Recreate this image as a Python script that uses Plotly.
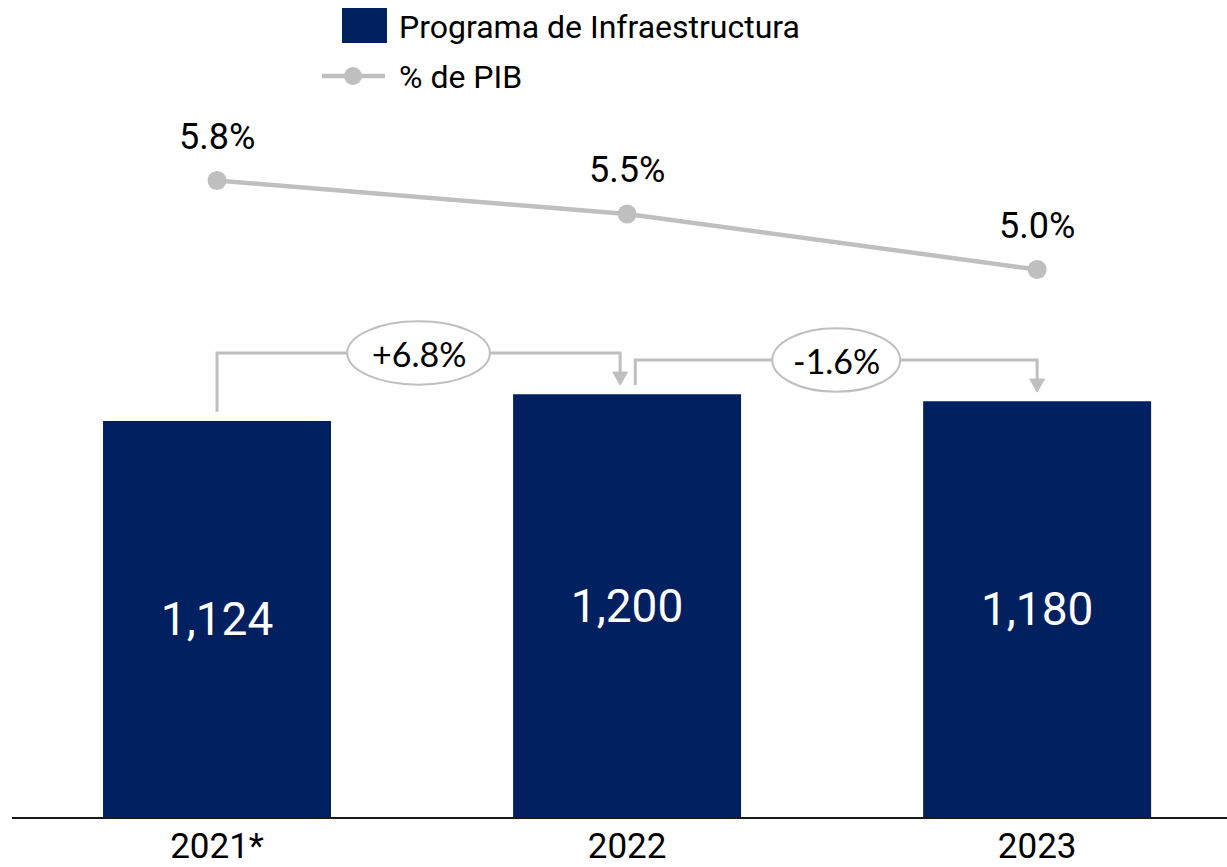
import plotly.graph_objects as go

# ---- data ----
years = ["2021*", "2022", "2023"]
programa = [1124, 1200, 1180]
bar_labels = ["1,124", "1,200", "1,180"]
pib = [5.8, 5.5, 5.0]
pib_labels = ["5.8%", "5.5%", "5.0%"]
growth_labels = ["+6.8%", "-1.6%"]

NAVY = "#002060"
GRAY = "#BFBFBF"
FONT = "Roboto"

W, H = 1227, 867
ML, MR, MT, MB = 12, 0, 0, 50
PW, PH = W - ML - MR, H - MT - MB

def px(x):
    return (x - ML) / PW

def py(y):
    return (H - MB - y) / PH

xs = list(range(len(years)))

fig = go.Figure()
fig.add_trace(go.Bar(
    x=xs, y=programa, width=0.556, marker=dict(color=NAVY, line=dict(width=0)),
    text=bar_labels, textposition="inside", insidetextanchor="middle",
    textfont=dict(family=FONT, size=46, color="white"), constraintext="none",
    name="Programa de Infraestructura", showlegend=False, hoverinfo="skip",
))
fig.add_trace(go.Scatter(
    x=xs, y=pib, yaxis="y2", mode="lines+markers",
    line=dict(color=GRAY, width=4.5), marker=dict(color=GRAY, size=19),
    name="% de PIB", showlegend=False, hoverinfo="skip",
))

annotations = []
shapes = []

# point labels
for i, (v, t) in enumerate(zip(pib, pib_labels)):
    annotations.append(dict(x=i, y=v, xref="x", yref="y2", text=t, showarrow=False,
                            yshift=44, font=dict(family=FONT, size=36, color="black")))

# growth brackets
gap = 26
levels = [1317, 1297]
starts = [0.0, 1.02]
ends = [0.983, 2.0]
ell_rx = [0.174, 0.156]
ell_ry = 90
tri_w = 0.018
tri_h = 37
for k in range(2):
    x0, x1 = starts[k], ends[k]
    y_start = programa[k] + gap
    y_end = programa[k + 1] + gap
    lvl = levels[k]
    shapes.append(dict(type="path", xref="x", yref="y",
                       path=f"M{x0},{y_start} L{x0},{lvl} L{x1},{lvl} L{x1},{y_end + tri_h}",
                       line=dict(color=GRAY, width=3)))
    shapes.append(dict(type="path", xref="x", yref="y",
                       path=f"M{x1 - tri_w},{y_end + tri_h} L{x1 + tri_w},{y_end + tri_h} L{x1},{y_end} Z",
                       fillcolor=GRAY, line=dict(color=GRAY, width=1)))
    cx = (x0 + x1) / 2
    shapes.append(dict(type="circle", xref="x", yref="y",
                       x0=cx - ell_rx[k], x1=cx + ell_rx[k], y0=lvl - ell_ry, y1=lvl + ell_ry,
                       fillcolor="white", line=dict(color=GRAY, width=2)))
    annotations.append(dict(x=cx, y=lvl, xref="x", yref="y", text=growth_labels[k],
                            showarrow=False, font=dict(family="Lato", size=34, color="black")))

# custom legend
shapes.append(dict(type="rect", xref="paper", yref="paper",
                   x0=px(342), x1=px(387), y0=py(43), y1=py(8),
                   fillcolor=NAVY, line=dict(width=0)))
shapes.append(dict(type="line", xref="paper", yref="paper",
                   x0=px(322), x1=px(385), y0=py(76), y1=py(76),
                   line=dict(color=GRAY, width=4.5)))
shapes.append(dict(type="circle", xref="paper", yref="paper",
                   x0=px(344), x1=px(362), y0=py(85), y1=py(67),
                   fillcolor=GRAY, line=dict(color=GRAY, width=0)))
annotations.append(dict(x=px(397), y=py(27), xref="paper", yref="paper", text="Programa de Infraestructura",
                        showarrow=False, xanchor="left", yanchor="middle",
                        font=dict(family=FONT, size=32, color="black")))
annotations.append(dict(x=px(397), y=py(77), xref="paper", yref="paper", text="% de PIB",
                        showarrow=False, xanchor="left", yanchor="middle",
                        font=dict(family=FONT, size=32, color="black")))

fig.update_layout(
    width=W, height=H,
    margin=dict(l=ML, r=MR, t=MT, b=MB, autoexpand=False),
    paper_bgcolor="white", plot_bgcolor="white",
    showlegend=False,
    xaxis=dict(range=[-0.5, 2.463], tickmode="array", tickvals=xs, ticktext=years,
               showgrid=False, zeroline=False, showline=True, linecolor="#1a1a1a", linewidth=2,
               ticks="", ticklabelstandoff=-3, automargin=False,
               tickfont=dict(family=FONT, size=35, color="black")),
    yaxis=dict(range=[0, PH / 0.3523], visible=False, showgrid=False, zeroline=False, automargin=False),
    yaxis2=dict(range=[0.076, 7.424], overlaying="y", visible=False, showgrid=False, zeroline=False,
                automargin=False),
    shapes=shapes, annotations=annotations,
)

fig.write_html("out.html", config={"displayModeBar": False},
               post_script="document.body.style.margin='0';document.body.style.overflow='hidden';")
